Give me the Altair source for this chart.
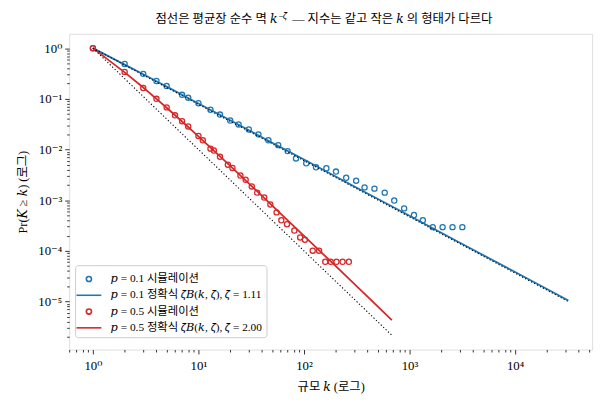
import altair as alt
import pandas as pd

# Simulated CCDF points
blue_sim_k = [1, 2, 3, 4, 5, 7, 8, 10, 13, 16, 20, 24, 30, 37, 46, 57, 70, 84,
              105, 130, 163, 201, 251, 312, 375, 465, 582, 716, 889, 1102,
              1337, 1660, 2057, 2553, 3164]
blue_sim_p = [1.0, 0.488, 0.311, 0.225, 0.179, 0.120, 0.105, 0.082, 0.061,
              0.0489, 0.0373, 0.0312, 0.0249, 0.0199, 0.0152, 0.0122, 0.0093,
              0.00667, 0.00533, 0.00446, 0.00426, 0.00367, 0.00277, 0.00242,
              0.00179, 0.00169, 0.00141, 0.000986, 0.000689, 0.000510,
              0.000402, 0.000294, 0.000294, 0.000294, 0.000294]
red_sim_k = [1, 2, 3, 4, 5, 6, 7, 8, 10, 11, 13, 14, 16, 19, 21, 25, 28, 32,
             36, 42, 48, 55, 61, 69, 81, 92, 102, 121, 139, 159, 179, 203,
             232, 266]
red_sim_p = [1.0, 0.340, 0.164, 0.100, 0.0678, 0.0473, 0.0362, 0.0285, 0.0185,
             0.0152, 0.0104, 0.00955, 0.0072, 0.00502, 0.00433, 0.00307,
             0.00253, 0.00187, 0.00141, 0.00113, 0.000824, 0.000575, 0.000402,
             0.000336, 0.000252, 0.000184, 0.000166, 0.000101, 0.000101,
             6.1e-5, 6.1e-5, 6.1e-5, 6.1e-5, 6.1e-5]

# Exact curves (solid) and pure power laws (dotted)
blue_exact_k = [1, 2, 3, 4, 5, 7, 10, 20, 50, 100, 300, 1000, 3000, 10000, 32000]
blue_exact_p = [1.0, 0.474, 0.305, 0.2225, 0.174, 0.1203, 0.0811, 0.0377,
                0.01365, 0.00633, 0.00187, 0.000492, 0.000145, 3.82e-5, 1.05e-5]
red_exact_k = [1, 2, 3, 4, 5, 7, 10, 20, 50, 100, 200, 400, 680]
red_exact_p = [1.0, 0.333, 0.167, 0.100, 0.0667, 0.0357, 0.0182, 0.00476,
               0.000784, 0.000198, 4.98e-5, 1.25e-5, 4.3e-6]
blue_pure_k = [1, 32000]
blue_pure_p = [1.0, 9.98e-6]
red_pure_k = [1, 680]
red_pure_p = [1.0, 2.16e-6]

SIM_01 = "𝑝 = 0.1 시뮬레이션"
EXA_01 = "𝑝 = 0.1 정확식 𝜁𝐵(𝑘, 𝜁), 𝜁 = 1.11"
SIM_05 = "𝑝 = 0.5 시뮬레이션"
EXA_05 = "𝑝 = 0.5 정확식 𝜁𝐵(𝑘, 𝜁), 𝜁 = 2.00"
series_order = [SIM_01, EXA_01, SIM_05, EXA_05]

TITLE_A = "점선은 평균장 순수 멱 𝑘"
TITLE_SUP = "−𝜁"
TITLE_B = "— 지수는 같고 작은 𝑘 의 형태가 다르다"

FONT = "Liberation Serif, DejaVu Serif, Noto Sans CJK KR"
BLUE, RED = "#1f77b4", "#d62728"

# legend / point symbols: small circle and a short dash, both on the same unit
CIRCLE = "M-0.29,0A0.29,0.29,0,1,1,0.29,0A0.29,0.29,0,1,1,-0.29,0Z"
DASH = "M-1.4,0H1.4"

sim = pd.concat([
    pd.DataFrame({"k": blue_sim_k, "P": blue_sim_p, "series": SIM_01}),
    pd.DataFrame({"k": red_sim_k, "P": red_sim_p, "series": SIM_05}),
])
exact = pd.concat([
    pd.DataFrame({"k": blue_exact_k, "P": blue_exact_p, "series": EXA_01}),
    pd.DataFrame({"k": red_exact_k, "P": red_exact_p, "series": EXA_05}),
])
pure = pd.concat([
    pd.DataFrame({"k": blue_pure_k, "P": blue_pure_p, "series": "a"}),
    pd.DataFrame({"k": red_pure_k, "P": red_pure_p, "series": "b"}),
])

MAJOR = "abs(log(datum.value)/LN10 - round(log(datum.value)/LN10)) < 0.001"
LABEL = (f"{MAJOR} ? '10' + (round(log(datum.value)/LN10) < 0 ? '⁻' : '') + "
         "['⁰','¹','²','³','⁴','⁵','⁶'][abs(round(log(datum.value)/LN10))] : ''")

x_ticks = [m * 10.0 ** e for e in range(-1, 5) for m in range(1, 10)
           if 0.596 <= m * 10.0 ** e <= 53700]
y_ticks = [m * 10.0 ** e for e in range(-6, 1) for m in range(1, 10)
           if 1.13e-6 <= m * 10.0 ** e <= 1.92]


def log_axis(values, title, **kw):
    return alt.Axis(
        values=values, labelExpr=LABEL, grid=False, domain=False,
        tickColor="black", tickWidth=0.8,
        tickSize={"condition": {"test": MAJOR, "value": 4.5}, "value": 2.5},
        labelOverlap=False, labelFlush=False, labelFont=FONT,
        labelFontSize=13, labelColor="black", title=title, titleFont=FONT,
        titleFontSize=12.5, titleFontWeight="normal", titleColor="black", **kw)


x_enc = alt.X("k:Q", scale=alt.Scale(type="log", domain=[0.596, 53700], nice=False),
              axis=log_axis(x_ticks, "규모 𝑘 (로그)", labelPadding=6, titlePadding=8))
y_enc = alt.Y("P:Q", scale=alt.Scale(type="log", domain=[1.13e-6, 1.92], nice=False),
              axis=log_axis(y_ticks, "Pr(𝐾 ≥ 𝑘) (로그)", labelPadding=3, titlePadding=8))
color_scale = alt.Scale(domain=series_order, range=[BLUE, BLUE, RED, RED])
legend = alt.Legend(
    title=None, orient="none", legendX=6, legendY=234.5, padding=4,
    symbolSize=324, symbolStrokeWidth=1.6, labelOffset=12, rowPadding=0.5,
    labelLimit=400, labelFont=FONT, labelFontSize=11.5, labelColor="black",
    fillColor="white", strokeColor="#cccccc", cornerRadius=3)

points = alt.Chart(sim).mark_point(filled=False, size=324, strokeWidth=1.3, opacity=1).encode(
    x=x_enc, y=y_enc,
    color=alt.Color("series:N", scale=color_scale, legend=legend),
    shape=alt.Shape("series:N", scale=alt.Scale(domain=series_order,
                                                range=[CIRCLE, DASH, CIRCLE, DASH]),
                    legend=legend))

lines = alt.Chart(exact).mark_line(strokeWidth=1.8).encode(
    x=x_enc, y=y_enc, color=alt.Color("series:N", scale=color_scale, legend=None))

dotted = alt.Chart(pure).mark_line(color="black", strokeWidth=1.1, strokeDash=[1.2, 2.2]).encode(
    x=x_enc, y=y_enc, detail="series:N")

one = pd.DataFrame({"t": [0]})
title_a = alt.Chart(one).mark_text(align="right", baseline="alphabetic", font=FONT,
                                   fontSize=12.5, color="black").encode(
    x=alt.value(211), y=alt.value(-10.5), text=alt.value(TITLE_A))
title_sup = alt.Chart(one).mark_text(align="left", baseline="alphabetic", font=FONT,
                                     fontSize=9, color="black").encode(
    x=alt.value(212), y=alt.value(-15.5), text=alt.value(TITLE_SUP))
title_b = alt.Chart(one).mark_text(align="left", baseline="alphabetic", font=FONT,
                                   fontSize=12.5, color="black").encode(
    x=alt.value(226), y=alt.value(-10.5), text=alt.value(TITLE_B))

chart = (points + lines + dotted + title_a + title_sup + title_b).properties(
    width=530, height=320,
    autosize=alt.AutoSizeParams(type="none"),
    padding={"left": 62, "top": 23.5, "right": 10, "bottom": 50},
).configure_view(stroke="black", strokeWidth=1).configure(background="white")

chart.save("out.html", embed_options={"renderer": "svg", "actions": False})
